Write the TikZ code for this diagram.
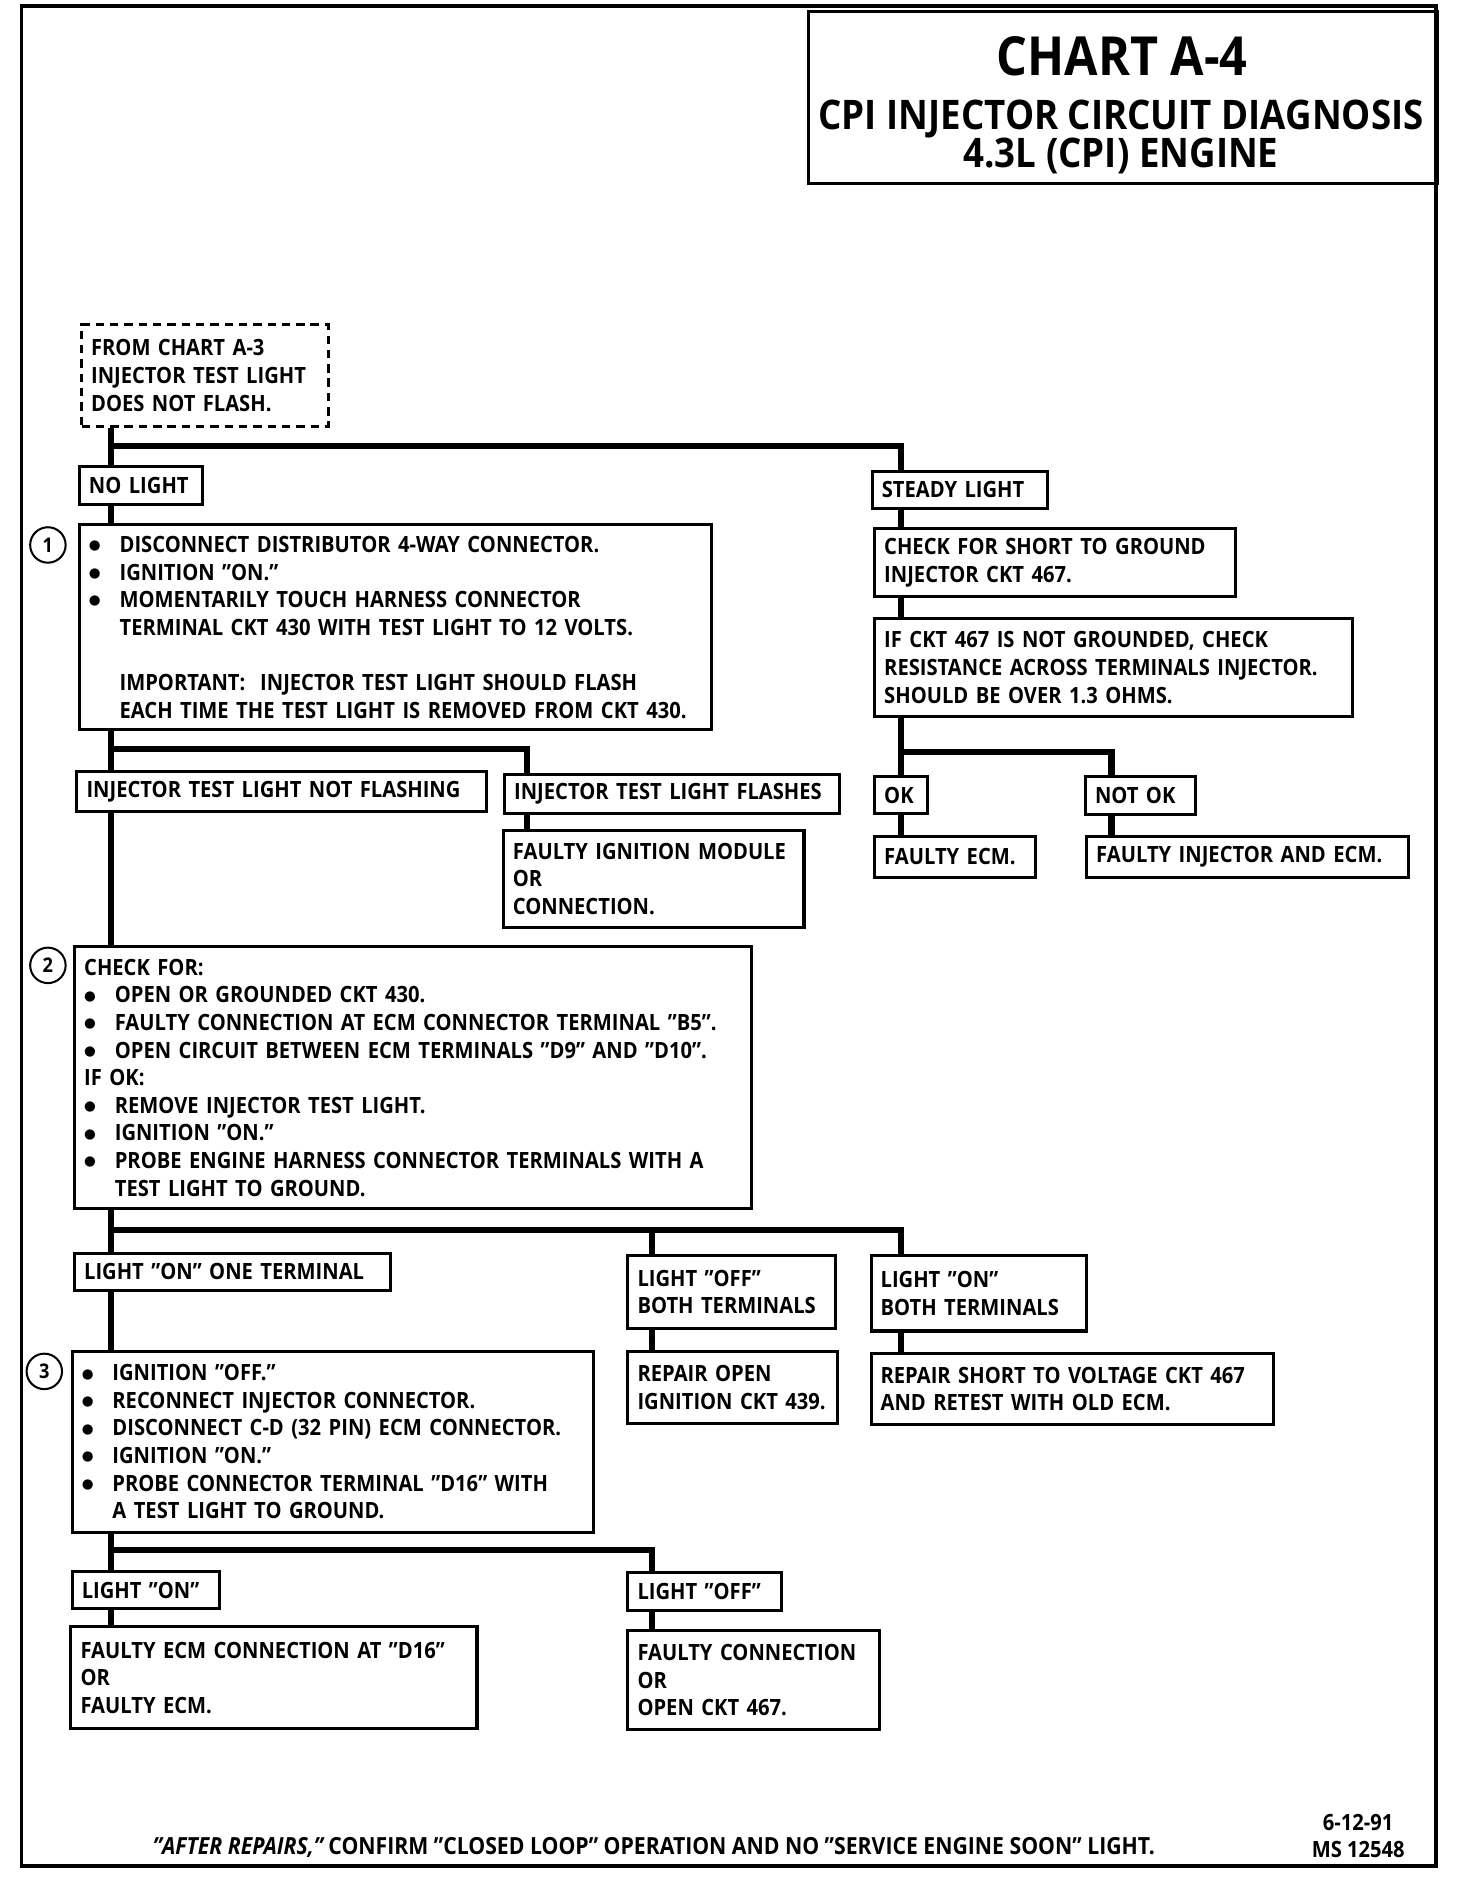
\documentclass[tikz,border=0pt]{standalone}
\usepackage{fontspec}
\setmainfont{Open Sans}[FakeStretch=0.9]
\newfontfamily\symfont{DejaVu Sans}
\usepackage{tikz}
\usetikzlibrary{positioning}

\newcommand{\itm}[1]{\makebox[0.64cm][l]{\raisebox{1.6pt}{\symfont\fontsize{8}{8}\selectfont ●}}#1}
\newcommand{\cnt}{\hspace*{0.64cm}}

\begin{document}
\begin{tikzpicture}[
  x=0.025cm, y=-0.025cm,
  every node/.style={font=\bfseries\fontsize{13.3}{16.4}\selectfont},
  bx/.code 2 args={\pgfmathsetlengthmacro\bxw{#1*0.025cm-0.4cm}%
    \tikzset{draw, line width=1.8pt, anchor=north west, inner xsep=0.2cm,
      inner ysep=0pt, align=left, text width/.expanded=\bxw,
      minimum height=#2*0.025cm}},
  dbx/.style={draw, line width=1.5pt, dash pattern=on 5pt off 3.5pt},
  lk/.style ={line width=3.6pt},
  frm/.style={line width=2.3pt},
  num/.style={circle, draw, line width=1.2pt, minimum size=0.74cm, inner sep=0pt,
    font=\bfseries\fontsize{12}{14}\selectfont},
  ttl/.style={font=\bfseries\fontsize{24.2}{27}\selectfont},
]
\useasboundingbox (0,0) rectangle (1216,1568);

%% Coordinates are pixels of the chart (x right, y down), 1px = 0.025cm
%%   left trunk x=93, right trunk x=752

%% ─── Frame and title ─────────────────────────────────────────────────────────
\draw[frm] (18,5) rectangle (1199,1558);
\node[bx={525}{144}] (titlebox) at (674,8) {};
\node[font=\bfseries\fontsize{32}{35}\selectfont] (chart) at (937,47) {CHART A-4};
\node[ttl] (ttl1) at (936,99)  {CPI INJECTOR CIRCUIT DIAGNOSIS};
\node[ttl] (ttl2) at (936,130) {4.3L (CPI) ENGINE};

%% ─── Trunk positions ─────────────────────────────────────────────────────────
\coordinate (xa) at (93,0);    % left trunk
\coordinate (xb) at (440,0);   % flashes
\coordinate (xc) at (752,0);   % right trunk
\coordinate (xd) at (928,0);   % not ok
\coordinate (xe) at (544,0);   % light off

%% ─── Start ───────────────────────────────────────────────────────────────────
\node[bx={206}{85}, dbx] (from) at (67,270)
  {FROM CHART A-3\\INJECTOR TEST LIGHT\\DOES NOT FLASH.};
\node[bx={103}{32}] (nolight) at (65,388)  {NO LIGHT};
\node[bx={146}{31}] (steady)  at (727,392) {STEADY LIGHT};

% circled step numbers
\foreach \n/\x/\y in {1/40/455, 2/40/806, 3/37/1145} {
  \node[num] (c\n) at (\x,\y) {\n};
}

%% ─── Step 1 ──────────────────────────────────────────────────────────────────
\node[bx={528}{171}] (step1) at (65,437) {%
  \itm{DISCONNECT DISTRIBUTOR 4-WAY CONNECTOR.}\\
  \itm{IGNITION "ON."}\\
  \itm{MOMENTARILY TOUCH HARNESS CONNECTOR}\\
  \cnt TERMINAL CKT 430 WITH TEST LIGHT TO 12 VOLTS.\\[16.4pt]
  \cnt IMPORTANT:\ \ INJECTOR TEST LIGHT SHOULD FLASH\\
  \cnt EACH TIME THE TEST LIGHT IS REMOVED FROM CKT 430.};

\node[bx={342}{33}] (notflash) at (63,643)  {INJECTOR TEST LIGHT NOT FLASHING};
\node[bx={280}{33}] (flashes)  at (420,645) {INJECTOR TEST LIGHT FLASHES};
\node[bx={251}{81}] (ignmod)   at (419,692) {FAULTY IGNITION MODULE\\OR\\CONNECTION.};

%% ─── Steady light branch ─────────────────────────────────────────────────────
\node[bx={301}{57}] (short)  at (729,440) {CHECK FOR SHORT TO GROUND\\INJECTOR CKT 467.};
\node[bx={399}{82}] (resist) at (729,515)
  {IF CKT 467 IS NOT GROUNDED, CHECK\\RESISTANCE ACROSS TERMINALS INJECTOR.\\SHOULD BE OVER 1.3 OHMS.};
\node[bx={44}{31}]  (ok)     at (729,647) {OK};
\node[bx={92}{32}]  (notok)  at (905,647) {NOT OK};
\node[bx={134}{34}] (ecm)    at (729,697) {FAULTY ECM.};
\node[bx={269}{34}] (injecm) at (906,697) {FAULTY INJECTOR AND ECM.};

%% ─── Step 2 ──────────────────────────────────────────────────────────────────
\node[bx={565}{219}] (step2) at (61,789) {%
  CHECK FOR:\\
  \itm{OPEN OR GROUNDED CKT 430.}\\
  \itm{FAULTY CONNECTION AT ECM CONNECTOR TERMINAL "B5".}\\
  \itm{OPEN CIRCUIT BETWEEN ECM TERMINALS "D9" AND "D10".}\\
  IF OK:\\
  \itm{REMOVE INJECTOR TEST LIGHT.}\\
  \itm{IGNITION "ON."}\\
  \itm{PROBE ENGINE HARNESS CONNECTOR TERMINALS WITH A}\\
  \cnt TEST LIGHT TO GROUND.};

\node[bx={264}{31}] (oneterm)  at (61,1045)  {LIGHT "ON" ONE TERMINAL};
\node[bx={173}{61}] (offboth)  at (523,1047) {LIGHT "OFF"\\BOTH TERMINALS};
\node[bx={180}{63}] (onboth)   at (726,1047) {LIGHT "ON"\\BOTH TERMINALS};
\node[bx={175}{60}] (repopen)  at (523,1127) {REPAIR OPEN\\IGNITION CKT 439.};
\node[bx={336}{59}] (repshort) at (726,1129)
  {REPAIR SHORT TO VOLTAGE CKT 467\\AND RETEST WITH OLD ECM.};

%% ─── Step 3 ──────────────────────────────────────────────────────────────────
\node[bx={435}{151}] (step3) at (59,1127) {%
  \itm{IGNITION "OFF."}\\
  \itm{RECONNECT INJECTOR CONNECTOR.}\\
  \itm{DISCONNECT C-D (32 PIN) ECM CONNECTOR.}\\
  \itm{IGNITION "ON."}\\
  \itm{PROBE CONNECTOR TERMINAL "D16" WITH}\\
  \cnt A TEST LIGHT TO GROUND.};

\node[bx={123}{31}] (lighton)   at (59,1311)  {LIGHT "ON"};
\node[bx={128}{31}] (lightoff)  at (523,1312) {LIGHT "OFF"};
\node[bx={339}{85}] (faultyecm) at (58,1357)
  {FAULTY ECM CONNECTION AT "D16"\\OR\\FAULTY ECM.};
\node[bx={210}{83}] (faultycon) at (523,1360)
  {FAULTY CONNECTION\\OR\\OPEN CKT 467.};

%% ─── Footer ──────────────────────────────────────────────────────────────────
\node[anchor=base, font=\bfseries\fontsize{14}{16}\selectfont] (foot) at (546,1548)
  {{\itshape "AFTER REPAIRS,"} CONFIRM "CLOSED LOOP" OPERATION AND NO "SERVICE ENGINE SOON" LIGHT.};
\node[align=center] (msno) at (1134,1533) {6-12-91\\MS 12548};

%% ─── Connectors ──────────────────────────────────────────────────────────────
\coordinate (bus0) at (93,372);
\coordinate (bus1) at (93,625);
\coordinate (bus2) at (752,628);
\coordinate (bus3) at (93,1027);
\coordinate (bus4) at (93,1294);

\draw[lk] (from.south -| xa) -- (nolight.north -| xa);
\draw[lk] (bus0) -| (steady.north -| xc);
\draw[lk] (nolight.south -| xa) -- (step1.north -| xa);

\draw[lk] (steady.south -| xc) -- (short.north -| xc);
\draw[lk] (short.south -| xc) -- (resist.north -| xc);
\draw[lk] (resist.south -| xc) -- (ok.north -| xc);
\draw[lk] (bus2) -| (notok.north -| xd);
\draw[lk] (ok.south -| xc) -- (ecm.north -| xc);
\draw[lk] (notok.south -| xd) -- (injecm.north -| xd);

\draw[lk] (step1.south -| xa) -- (notflash.north -| xa);
\draw[lk] (bus1) -| (flashes.north -| xb);
\draw[lk] (flashes.south -| xb) -- (ignmod.north -| xb);
\draw[lk] (notflash.south -| xa) -- (step2.north -| xa);

\draw[lk] (step2.south -| xa) -- (oneterm.north -| xa);
\draw[lk] (bus3) -| (offboth.north -| xe);
\draw[lk] (bus3) -| (onboth.north -| xc);
\draw[lk] (offboth.south -| xe) -- (repopen.north -| xe);
\draw[lk] (onboth.south -| xc) -- (repshort.north -| xc);
\draw[lk] (oneterm.south -| xa) -- (step3.north -| xa);

\draw[lk] (step3.south -| xa) -- (lighton.north -| xa);
\draw[lk] (bus4) -| (lightoff.north -| xe);
\draw[lk] (lighton.south -| xa) -- (faultyecm.north -| xa);
\draw[lk] (lightoff.south -| xe) -- (faultycon.north -| xe);

\end{tikzpicture}
\end{document}
